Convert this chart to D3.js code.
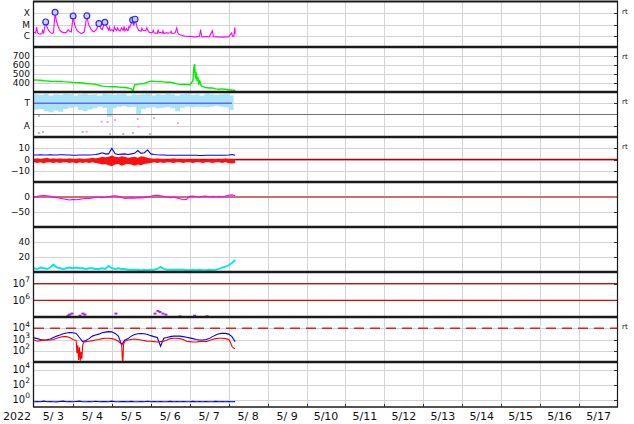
<!DOCTYPE html>
<html><head><meta charset="utf-8">
<script src="https://cdn.jsdelivr.net/npm/d3@7"></script>
<style>body{margin:0;background:#fff}svg{display:block}text{font-family:"DejaVu Sans",sans-serif;fill:#111}</style>
</head><body><svg id="c" width="634" height="424"></svg>
<script>
// ---------------- data ----------------
const yearLabel = "2022";
const dayLabels = ["5/ 3","5/ 4","5/ 5","5/ 6","5/ 7","5/ 8","5/ 9","5/10","5/11","5/12","5/13","5/14","5/15","5/16","5/17"];

// panel 1: X-ray flux (units of 1e-6 W/m2), hours from 5/3 00:00
const xrayHours = [0,1,1.6,2.2,3,4,5,5.3,6,7.2,8,9,10,11,12,13,13.8,15,16,17,18,19,20,21,22,23,24.1,25,26,27,28,29,30,31,32.6,33.5,35,36,37,38,39,40,41,42,43.7,45,46,46.5,47,48,49,49.5,50,51,51.5,52,53,54,55,55.5,56,57,57.5,58,58.5,59,60.8,61.5,62.3,63.5,64.5,66,66.5,67,68,69,69.5,70,71,72,73,73.5,74,75,76,76.5,77,78,79,79.5,80,81,82,83,84,84.5,85,86,87,88,88.6,89,90,91,92,93,94,95,96,97,98,99,100,101,102,102.7,103.3,104,106,108,110,110.6,112,114,116,118,120,121.8,122.4,123.2,123.8,124];
const xrayC = [2.0,1.8,6.0,1.8,1.5,1.4,1.6,3.0,1.8,17,6,3,2,1.6,1.8,120,20,6,3,2.2,2,1.8,2,3.5,2.5,2.2,57,10,4,2.5,2,1.6,1.8,2.2,60,12,4,2.6,2.2,3,5,12,5,3.5,16,6,3.2,5.5,2.8,3.5,2.5,6,4,2.8,5,3.5,2.6,5,3,7,2.8,4.5,3,3,6.5,5.5,25,8,30,6,3,2.5,4.5,3.2,2.8,3,5,3.4,2.0,1.8,2.0,3,1.8,1.7,1.6,3.5,1.8,2.0,1.7,2.8,1.6,1.8,1.8,1.7,1.8,2.6,1.7,1.6,1.8,5,1.8,1.5,1.2,1.1,1.0,0.9,0.9,0.85,0.9,0.85,0.8,0.8,0.8,0.85,0.9,3.5,0.9,0.8,0.85,0.8,2.8,0.85,0.8,0.8,0.75,0.8,0.8,1.8,0.9,0.9,5.5,1.5];
const flareHours = [7.2,13,24.1,32.6,40,43.7,60.8,62.3];
const flareC = [17,120,57,60,12,16,25,30];
const xrayTicks = [1e-4,1e-5,1e-6];
const xrayTickLabels = ["X","M","C"];

// panel 2: solar wind speed (km/s)
const speedHours = [0,2,4,6,8,10,12,14,16,18,20,22,24,26,28,30,32,34,36,38,40,42,44,46,48,50,52,54,56,58,60,61,62,64,66,68,70,72,74,76,78,80,82,84,86,88,90,92,94,96,97,98,98.5,99,99.5,100,100.5,101,101.5,102,103,104,106,108,110,112,114,116,118,120,122,124];
const speedVals = [433,432,430,425,424,420,418,417,418,415,413,410,405,404,402,400,395,392,390,385,375,365,362,360,358,360,355,352,350,345,335,310,380,385,390,395,410,420,418,415,418,412,408,410,400,390,385,383,385,380,400,430,560,611,450,520,420,470,380,430,370,360,350,345,345,335,330,335,330,325,322,320];
const speedTicks = [400,500,600,700];

// panel 3: T / A levels (band every 3 hours)
const bandHours = [0,3,6,9,12,15,18,21,24,27,30,33,36,39,42,45,48,51,54,57,60,63,66,69,72,75,78,81,84,87,90,93,96,99,102,105,108,111,114,117,120,123];
const bandHi = [3.8,3.75,3.85,3.7,3.8,3.75,3.85,3.8,3.7,3.8,3.85,3.75,3.8,3.7,3.85,3.8,3.75,3.8,3.85,3.7,3.8,3.75,3.8,3.85,3.7,3.8,3.75,3.85,3.8,3.7,3.8,3.85,3.75,3.8,3.7,3.85,3.8,3.75,3.8,3.85,3.7,3.6];
const bandLo = [2.45,2.5,2.3,2.2,2.35,2.25,2.5,2.6,2.7,2.4,2.3,2.45,2.55,2.7,2.6,1.8,2.55,2.7,2.75,2.65,2.7,2.0,2.5,2.6,2.65,2.55,2.6,2.65,2.55,2.3,2.6,2.7,2.65,2.7,2.7,2.65,2.7,2.75,2.7,2.65,2.4,2.1];
const levelLineVal = 3, levelEndHour = 122;
const pinkH = [32.4,41.7,45.4,50,63.9,64.5,74,88.8];
const pinkV = [0.47,1.36,1.33,1.51,1.6,0.92,1.69,1.24];
const grayH = [3,5.5,30,46.9,55,61,71.5,3];
const grayV = [0.36,0.44,0.44,0.27,0.27,0.36,0.27,1.87];
const kTicks = [3,1];
const kTickLabels = ["T","A"];

// panel 4: IMF Bt / Bz (nT), every 2 hours
const bt = [4,4,4.2,4,4,4.2,4,4,4.2,4.2,4,4,3.8,3.8,4,4,4,4,4.2,4.5,5,6,5,5,10,5,4.5,4.8,5,4.5,5,5.5,8,5.5,6,8.5,5,4.5,4.2,4,4,3.8,3.8,3.8,3.8,3.8,3.8,3.8,3.8,3.8,3.8,3.6,3.6,3.8,3.8,3.8,3.8,3.8,3.8,3.8,4,4.5,3.8];
const bzHi = [0.5,1,0.5,1,1.5,0.5,1,0.5,1,0.5,0.5,1,0.5,0.5,1,0.5,0.5,1,1.5,1,1.5,2.5,2,2.5,3.5,2.5,2,3,2.5,1.5,2,2.5,1.5,3,2.5,1.5,1,0.5,1,0.5,0.5,0,0.5,1,0.5,0,0.5,0.5,0,0.5,0,0.5,0,0,0.5,0,0.5,0,0.5,1,0.5,0,0.5];
const bzLo = [-2.5,-3,-2.5,-3.5,-2.5,-2.5,-3,-2.5,-3,-2.5,-2.5,-3,-2.5,-3.5,-2.5,-3,-2.5,-3,-2.5,-3,-3.5,-4.5,-4,-5,-6,-4.5,-4,-5.5,-4.5,-4,-4.5,-5.5,-4.5,-5,-4,-3.5,-3,-2.5,-3,-2.5,-3,-2.5,-2.5,-3,-2.5,-2.5,-3,-2.5,-2.5,-3,-2.5,-2.5,-3,-2.5,-2.5,-3,-2.5,-2.5,-3,-2.5,-3,-3.5,-3];
const bTicks = [10,0,-10];

// panel 5: Dst (nT), every 2 hours
const dst = [-2,2,4,5,4,2,0,-2,-4,-6,-8,-10,-8,-9,-8,-6,-5,-5,-3,-1,0,-2,-1,1,3,4,2,-2,-5,-4,-3,-4,-2,-3,-2,0,2,5,6,4,2,0,-2,-1,-3,-6,-9,-8,2,3,1,0,2,3,1,2,1,2,1,3,6,7,5];
const dstTicks = [0,-50];

// panel 6: every 2 hours
const cyanVals = [5,4,6,5,4,6,10,6,5,4,5,6,5,6,5,5,4,5,5,4,4,5,4,8,5,4,5,4,4,3,3,3,3,2,3,2.5,3,3,4,7,4,3,3,3,3,3,3,2.5,2.5,3,2.5,3,2.5,2.5,3,2.5,3,4,6,7,9,12,16];
const p6Ticks = [40,20];

// panel 7
const purpleH = [21,22,23.4,28.4,30.2,31.4,50.5,74.6,76.4,77.7,79.5,81.3,90,99,106.7];
const purpleV = [1.2e5,1.4e5,1.6e5,1.2e5,1.6e5,1.4e5,1.6e5,1.6e5,2.3e5,2.0e5,1.6e5,1.4e5,1.1e5,1.2e5,1.1e5];
const p7Ticks = [1e7,1e6];
const p7Exp = ["7","6"];

// panel 8: blue every 2 hours, red irregular
const blueE = [1400,1200,1000,900,950,1100,1500,2000,2500,3200,3800,4200,4000,3500,1500,650,800,1200,2000,2500,3000,4000,4500,5000,4800,3500,2000,330,900,1200,2000,2800,3200,3300,3200,2800,2200,1800,1500,250,1300,1500,1800,2000,2000,2000,1800,1600,1400,1200,1000,900,900,1000,1200,1800,2500,3200,3500,3500,3000,1800,650];
const redH = [0,2,4,6,8,10,12,14,16,18,20,22,24,25,26,26.5,27,27.5,28,28.5,29,29.5,30,30.5,31,32,34,36,38,40,42,44,46,48,50,52,53,54,54.5,54.8,55.2,56,58,60,62,64,66,68,70,72,74,76,78,80,82,84,86,88,90,92,94,96,98,100,102,104,106,108,110,112,114,116,118,120,121,122,123,124];
const redV = [900,700,800,900,850,900,1000,1300,1600,1800,1800,1500,1000,900,800,60,300,15,200,13,80,20,300,500,600,650,700,800,900,1000,1200,1300,1300,1200,1000,700,500,400,15,13,400,700,900,1000,1100,1000,900,800,700,700,650,600,650,700,900,1200,1300,1300,1200,1000,700,650,600,600,650,700,650,800,1000,1200,1300,1300,1200,1000,600,250,175,150];
const p8Ticks = [1e4,1e3,1e2];
const p8Exp = ["4","3","2"];
const p8Threshold = 1e4;

// panel 9: every 2 hours
const p9Vals = [0.5,0.55,0.5,0.6,0.5,0.55,0.5,0.48,0.55,0.6,0.5,0.52,0.5,0.55,0.6,0.5,0.5,0.55,0.5,0.58,0.5,0.52,0.55,0.5,0.6,0.5,0.5,0.55,0.52,0.5,0.56,0.5,0.5,0.55,0.5,0.58,0.5,0.52,0.5,0.55,0.5,0.5,0.56,0.5,0.52,0.5,0.55,0.5,0.5,0.56,0.5,0.52,0.5,0.55,0.5,0.5,0.56,0.5,0.52,0.5,0.55,0.5,0.52];
const p9Ticks = [1e4,1e2,1e0];
const p9Exp = ["4","2","0"];

// ---------------- drawing ----------------
const svg = d3.select("#c");
const L = 34, R = 618, PH = 45, TOP = 2;
const T0 = Date.UTC(2022,4,3);
const hr = h => new Date(T0 + h*3600e3);
const x = d3.scaleUtc().domain([new Date(T0), new Date(Date.UTC(2022,4,18))]).range([L, R]);
const pTop = i => TOP + i*PH;
const every2 = arr => arr.map((v,i)=>({h:i*2, v}));
const zip = (hs, vs) => hs.map((h,i)=>({h, v:vs[i]})).filter(d=>d.v!==undefined);

const ys = [
  d3.scaleLog().domain([1e-7,1e-3]).range([pTop(1), pTop(0)]),
  d3.scaleLinear().domain([300,800]).range([pTop(2), pTop(1)]),
  d3.scaleLinear().domain([0,4]).range([pTop(3), pTop(2)]),
  d3.scaleLinear().domain([-20,20]).range([pTop(4), pTop(3)]),
  d3.scaleLinear().domain([-100,50]).range([pTop(5), pTop(4)]),
  d3.scaleLinear().domain([0,60]).range([pTop(6), pTop(5)]),
  d3.scaleLog().domain([1e5, Math.pow(10,7.7)]).range([pTop(7), pTop(6)]),
  d3.scaleLog().domain([1e1,1e5]).range([pTop(8), pTop(7)]),
  d3.scaleLog().domain([1e-1,1e5]).range([pTop(9), pTop(8)])
];

const defs = svg.append("defs");
ys.forEach((y,i)=>{
  defs.append("clipPath").attr("id","cp"+i).append("rect")
    .attr("x",L).attr("y",pTop(i)).attr("width",R-L).attr("height",PH);
});

const gridC = "#d4d4d4";
const grid = svg.append("g");
for (let d=1; d<15; d++){
  const xx = Math.round(x(new Date(T0 + d*864e5)))+0.5;
  grid.append("line").attr("x1",xx).attr("x2",xx).attr("y1",TOP).attr("y2",pTop(9)).attr("stroke",gridC);
}
function hgrid(i, vals){
  vals.forEach(v=>{
    const yy = Math.round(ys[i](v))+0.5;
    grid.append("line").attr("x1",L).attr("x2",R).attr("y1",yy).attr("y2",yy).attr("stroke",gridC);
    svg.append("line").attr("x1",R-4).attr("x2",R).attr("y1",yy).attr("y2",yy).attr("stroke","#333");
  });
}
hgrid(0,xrayTicks); hgrid(1,speedTicks); hgrid(2,kTicks); hgrid(3,bTicks);
hgrid(4,dstTicks); hgrid(5,p6Ticks); hgrid(6,p7Ticks); hgrid(7,p8Ticks); hgrid(8,p9Ticks);

const line = (i) => d3.line().x(d=>x(hr(d.h))).y(d=>ys[i](d.v));
function g(i){ return svg.append("g").attr("clip-path",`url(#cp${i})`); }

// panel 1
const g0 = g(0);
g0.append("path").datum(zip(xrayHours, xrayC.map(c=>c*1e-6))).attr("d",line(0)).attr("fill","none").attr("stroke","#ff00ff").attr("stroke-width",1.1);
g0.selectAll("circle").data(zip(flareHours, flareC.map(c=>c*1e-6))).enter().append("circle")
  .attr("cx",d=>x(hr(d.h))).attr("cy",d=>ys[0](d.v)).attr("r",2.9)
  .attr("fill","#d6d0ff").attr("stroke","#2a2aff").attr("stroke-width",1.2);

// panel 2
const g1 = g(1);
g1.append("path").datum(zip(speedHours, speedVals)).attr("d",line(1)).attr("fill","none").attr("stroke","#00ee00").attr("stroke-width",1.4);

// panel 3
const g2 = g(2);
const band = zip(bandHours, bandHi).map((d,i)=>({h:d.h, hi:d.v, lo:bandLo[i]}));
g2.append("path").datum(band).attr("d", d3.area().curve(d3.curveStepAfter).x(d=>x(hr(d.h))).y0(d=>ys[2](d.lo)).y1(d=>ys[2](d.hi)))
  .attr("fill","#a8e4f8");
g2.append("line").attr("x1",L).attr("x2",R).attr("y1",ys[2](2)).attr("y2",ys[2](2)).attr("stroke","#707070").attr("stroke-width",1.2);
g2.append("line").attr("x1",x(hr(0))).attr("x2",x(hr(levelEndHour))).attr("y1",ys[2](levelLineVal)).attr("y2",ys[2](levelLineVal)).attr("stroke","#6464ff").attr("stroke-width",1.5);
g2.selectAll("rect.pk").data(zip(pinkH,pinkV)).enter().append("rect").attr("class","pk")
  .attr("x",d=>x(hr(d.h))-1).attr("y",d=>ys[2](d.v)-1).attr("width",2).attr("height",2).attr("fill","#f5a0f0");
g2.selectAll("rect.gy").data(zip(grayH,grayV)).enter().append("rect").attr("class","gy")
  .attr("x",d=>x(hr(d.h))-1).attr("y",d=>ys[2](d.v)-1).attr("width",2).attr("height",2).attr("fill","#b8b8b8");

// panel 4
const g3 = g(3);
g3.append("line").attr("x1",L).attr("x2",R).attr("y1",ys[3](0)).attr("y2",ys[3](0)).attr("stroke","#b00000").attr("stroke-width",1.5);
const bz = bzHi.map((v,i)=>({h:i*2, hi:v, lo:bzLo[i]}));
g3.append("path").datum(bz).attr("d", d3.area().x(d=>x(hr(d.h))).y0(d=>ys[3](d.lo)).y1(d=>ys[3](d.hi))).attr("fill","#ff1010");
g3.append("path").datum(every2(bt)).attr("d",line(3)).attr("fill","none").attr("stroke","#0000ff").attr("stroke-width",1.1);

// panel 5
const g4 = g(4);
g4.append("line").attr("x1",L).attr("x2",R).attr("y1",ys[4](0)).attr("y2",ys[4](0)).attr("stroke","#c87070").attr("stroke-width",2);
g4.append("path").datum(every2(dst)).attr("d",line(4)).attr("fill","none").attr("stroke","#ff00ff").attr("stroke-width",1.1);

// panel 6
const g5 = g(5);
g5.append("path").datum(every2(cyanVals)).attr("d",line(5)).attr("fill","none").attr("stroke","#00e8e8").attr("stroke-width",1.8);

// panel 7
const g6 = g(6);
p7Ticks.forEach(v=>{
  g6.append("line").attr("x1",L).attr("x2",R).attr("y1",ys[6](v)).attr("y2",ys[6](v)).attr("stroke","#cc1111").attr("stroke-width",1.4);
});
g6.selectAll("rect").data(zip(purpleH,purpleV)).enter().append("rect")
  .attr("x",d=>x(hr(d.h))-1.5).attr("y",d=>ys[6](d.v)-1).attr("width",3).attr("height",2).attr("fill","#a030e0");

// panel 8
const g7 = g(7);
g7.append("line").attr("x1",L).attr("x2",R).attr("y1",ys[7](p8Threshold)).attr("y2",ys[7](p8Threshold))
  .attr("stroke","#dd2222").attr("stroke-width",1.5).attr("stroke-dasharray","10,6");
g7.append("path").datum(every2(blueE)).attr("d",line(7)).attr("fill","none").attr("stroke","#0000ff").attr("stroke-width",1.1);
g7.append("path").datum(zip(redH,redV)).attr("d",line(7)).attr("fill","none").attr("stroke","#ff0000").attr("stroke-width",1.1);

// panel 9
const g8 = g(8);
g8.append("path").datum(every2(p9Vals)).attr("d",line(8)).attr("fill","none").attr("stroke","#0000ff").attr("stroke-width",1.1);

// frame
const fr = svg.append("g");
for (let i=1;i<9;i++){
  fr.append("line").attr("x1",L-1).attr("x2",R).attr("y1",pTop(i)).attr("y2",pTop(i)).attr("stroke","#1a1a1a").attr("stroke-width",2.5);
}
fr.append("line").attr("x1",L-1).attr("x2",R).attr("y1",TOP-0.5).attr("y2",TOP-0.5).attr("stroke","#1a1a1a").attr("stroke-width",2);
fr.append("line").attr("x1",L-1).attr("x2",R).attr("y1",pTop(9)).attr("y2",pTop(9)).attr("stroke","#1a1a1a").attr("stroke-width",1.5);
fr.append("line").attr("x1",L-0.5).attr("x2",L-0.5).attr("y1",TOP-1).attr("y2",pTop(9)).attr("stroke","#1a1a1a").attr("stroke-width",1.3);
fr.append("line").attr("x1",R-0.5).attr("x2",R-0.5).attr("y1",TOP-1).attr("y2",pTop(9)).attr("stroke","#1a1a1a").attr("stroke-width",1.2);
for (let d=1; d<15; d++){
  const xx = Math.round(x(new Date(T0 + d*864e5)))+0.5;
  fr.append("line").attr("x1",xx).attr("x2",xx).attr("y1",pTop(9)-3).attr("y2",pTop(9)).attr("stroke","#333");
}

// labels
const lab = svg.append("g").attr("font-size",9);
function ylab(i, vals, labels, exps){
  vals.forEach((v,k)=>{
    const t = lab.append("text").attr("x",30).attr("y",ys[i](v)).attr("dy","0.36em").attr("text-anchor","end");
    if (exps){
      t.append("tspan").attr("font-size",10).text("10");
      t.append("tspan").attr("font-size",7.5).attr("dy","-0.6em").text(exps[k]);
    } else t.text(labels[k]);
  });
}
ylab(0, xrayTicks, xrayTickLabels);
ylab(1, speedTicks, speedTicks.map(String));
ylab(2, kTicks, kTickLabels);
ylab(3, bTicks, bTicks.map(v=>v<0?"\u2212"+(-v):String(v)));
ylab(4, dstTicks, dstTicks.map(v=>v<0?"\u2212"+(-v):String(v)));
ylab(5, p6Ticks, p6Ticks.map(String));
ylab(6, p7Ticks, null, p7Exp);
ylab(7, p8Ticks, null, p8Exp);
ylab(8, p9Ticks, null, p9Exp);

[0,1,2,3,7].forEach(i=>{
  svg.append("text").attr("x",622).attr("y",pTop(i)+12).attr("font-size",7).text("rt");
});

const xl = svg.append("g").attr("font-size",11);
dayLabels.forEach((s,d)=>{
  xl.append("text").attr("x",x(new Date(T0 + d*864e5 + 432e5))).attr("y",420).attr("text-anchor","middle").style("white-space","pre").text(s);
});
xl.append("text").attr("x",3).attr("y",420).text(yearLabel);
</script></body></html>
